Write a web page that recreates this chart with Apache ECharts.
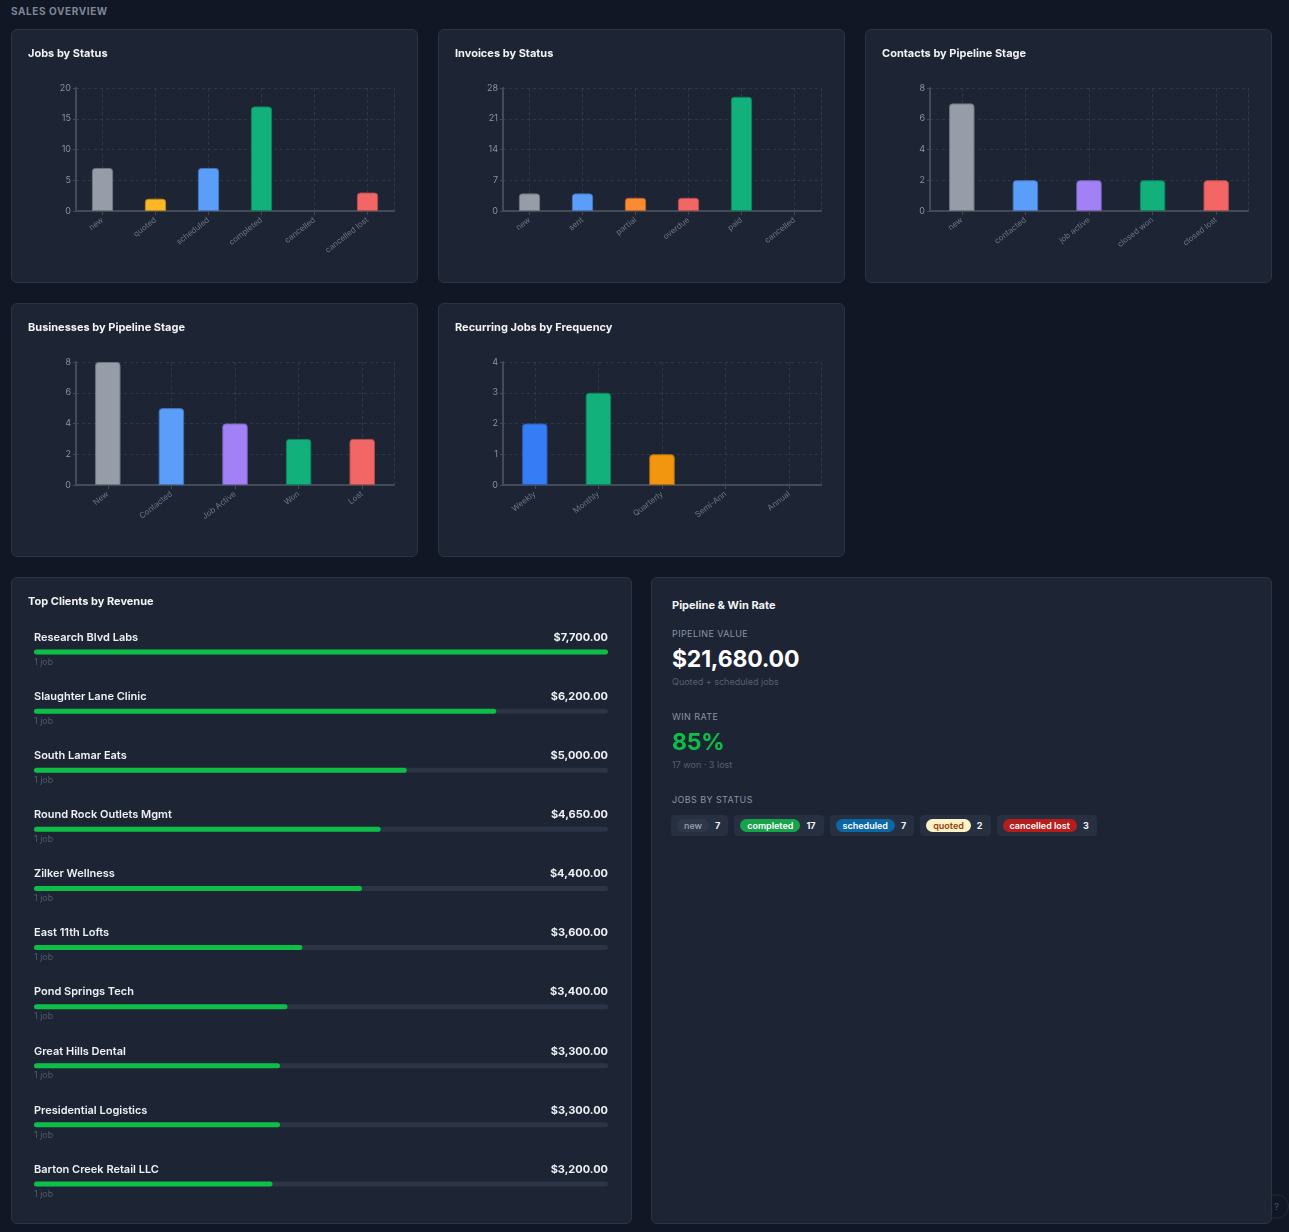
<!DOCTYPE html>
<html>
<head>
<meta charset="utf-8">
<script src="https://cdn.jsdelivr.net/npm/echarts@6/dist/echarts.min.js"></script>
<style>
	body { margin: 0; background: #111725; width: 1289px; height: 1232px; overflow: hidden; position: relative; font-family: Inter, "Noto Sans", sans-serif; }
	.hdr { position: absolute; left: 11px; top: 4px; font-size: 10px; font-weight: 700; letter-spacing: .6px; color: #7d8798; line-height: 14px; }
	.panel { position: absolute; background: #1d2433; border: 1px solid #2b3443; border-radius: 6px; box-sizing: border-box; }
	.chart { position: absolute; left: 0; top: 0; right: 0; bottom: 0; }
	.t { position: absolute; left: 20px; white-space: nowrap; }
	.ttl { font-size: 11px; font-weight: 700; color: #f3f4f6; line-height: 14px; }
	.lbl { font-size: 9px; color: #8a94a4; letter-spacing: .4px; line-height: 12px; }
	.big { font-size: 23px; font-weight: 700; line-height: 28px; color: #fff; letter-spacing: -.2px; }
	.sub { font-size: 9px; color: #566072; line-height: 12px; }
	.badges { position: absolute; left: 19px; top: 237px; display: flex; }
	.grp { display: flex; align-items: center; height: 21px; background: #273041; border-radius: 4px; padding: 0 8px 0 6px; margin-right: 6px; }
	.pill { height: 13px; line-height: 13px; padding: 0 7px; border-radius: 7px; font-size: 9px; font-weight: 600; }
	.cnt { font-size: 9px; font-weight: 700; color: #f3f4f6; margin-left: 6px; }
	.help { position: absolute; left: 1264px; top: 1194px; width: 25px; height: 25px; border-radius: 50%; border: 1px solid #232b39; box-sizing: border-box; color: #4b5565; font-size: 9px; text-align: center; line-height: 23px; }
</style>
</head>
<body>
<div class="hdr">SALES OVERVIEW</div>

<div class="panel" style="left:11px;top:29px;width:407px;height:254px"><div class="chart" id="c1"></div></div>
<div class="panel" style="left:438px;top:29px;width:407px;height:254px"><div class="chart" id="c2"></div></div>
<div class="panel" style="left:865px;top:29px;width:407px;height:254px"><div class="chart" id="c3"></div></div>
<div class="panel" style="left:11px;top:303px;width:407px;height:254px"><div class="chart" id="c4"></div></div>
<div class="panel" style="left:438px;top:303px;width:407px;height:254px"><div class="chart" id="c5"></div></div>
<div class="panel" style="left:11px;top:577px;width:621px;height:647px"><div class="chart" id="c6"></div></div>

<div class="panel" style="left:651px;top:577px;width:621px;height:647px">
	<div class="t ttl" style="top:20px">Pipeline &amp; Win Rate</div>
	<div class="t lbl" style="top:50px">PIPELINE VALUE</div>
	<div class="t big" id="pipeVal" style="top:67px"></div>
	<div class="t sub" style="top:98px">Quoted + scheduled jobs</div>
	<div class="t lbl" style="top:133px">WIN RATE</div>
	<div class="t big" id="winRate" style="top:150px;color:#0dbf47"></div>
	<div class="t sub" id="winSub" style="top:181px"></div>
	<div class="t lbl" style="top:216px">JOBS BY STATUS</div>
	<div class="badges" id="badges"></div>
</div>
<div class="help">?</div>

<script>
	// chart data
	var jobStatusCats = ['new', 'quoted', 'scheduled', 'completed', 'cancelled', 'cancelled lost'];
	var jobStatusCounts = [7, 2, 7, 17, 0, 3];
	var jobTicks = [0, 5, 10, 15, 20];

	var invoiceStatusCats = ['new', 'sent', 'partial', 'overdue', 'paid', 'cancelled'];
	var invoiceStatusCounts = [4, 4, 3, 3, 26, 0];
	var invoiceTicks = [0, 7, 14, 21, 28];

	var contactStageCats = ['new', 'contacted', 'job active', 'closed won', 'closed lost'];
	var contactStageCounts = [7, 2, 2, 2, 2];
	var contactTicks = [0, 2, 4, 6, 8];

	var businessStageCats = ['New', 'Contacted', 'Job Active', 'Won', 'Lost'];
	var businessStageCounts = [8, 5, 4, 3, 3];
	var businessTicks = [0, 2, 4, 6, 8];

	var frequencyCats = ['Weekly', 'Monthly', 'Quarterly', 'Semi-Ann', 'Annual'];
	var frequencyCounts = [2, 3, 1, 0, 0];
	var frequencyTicks = [0, 1, 2, 3, 4];

	var clientNames = ['Research Blvd Labs', 'Slaughter Lane Clinic', 'South Lamar Eats', 'Round Rock Outlets Mgmt', 'Zilker Wellness',
		'East 11th Lofts', 'Pond Springs Tech', 'Great Hills Dental', 'Presidential Logistics', 'Barton Creek Retail LLC'];
	var clientRevenue = [7700, 6200, 5000, 4650, 4400, 3600, 3400, 3300, 3300, 3200];
	var clientJobs = [1, 1, 1, 1, 1, 1, 1, 1, 1, 1];

	var pipelineValue = 21680;
	var badgeStatuses = ['new', 'completed', 'scheduled', 'quoted', 'cancelled lost'];

	// colours
	var GRAY = '#969ca8', BLUE = '#5a9ef9', PURPLE = '#a281f7', GREEN = '#12b07a', RED = '#f26666';
	var statusColors = {
		'new': GRAY, 'quoted': '#f9b824', 'scheduled': BLUE, 'completed': GREEN, 'cancelled': '#6b7280', 'cancelled lost': RED,
		'sent': BLUE, 'partial': '#fb8a34', 'overdue': RED, 'paid': GREEN
	};
	var stageColors = [GRAY, BLUE, PURPLE, GREEN, RED];
	var freqColors = ['#367cf4', GREEN, '#f2950f', '#8b5cf6', '#ec4899'];

	var FONT = 'Inter, "Noto Sans", sans-serif';

	function shade(hex) {
		var n = parseInt(hex.slice(1), 16);
		var r = Math.round(((n >> 16) & 255) * 0.75), g = Math.round(((n >> 8) & 255) * 0.75), b = Math.round((n & 255) * 0.75);
		return 'rgb(' + r + ',' + g + ',' + b + ')';
	}

	function barChart(id, title, cats, vals, colors, ticks) {
		var chart = echarts.init(document.getElementById(id));
		var interval = ticks[1] - ticks[0];
		chart.setOption({
			animation: false,
			title: {
				text: title, left: 16, top: 18, padding: 0,
				textStyle: { fontFamily: FONT, fontSize: 11, fontWeight: 700, color: '#f3f4f6' }
			},
			grid: { left: 64, right: 23, top: 58, bottom: 71, containLabel: false },
			xAxis: {
				type: 'category',
				data: cats,
				axisLine: { lineStyle: { color: '#434b59', width: 2 } },
				axisTick: { show: true, alignWithLabel: true, length: 4, lineStyle: { color: '#434b59' } },
				axisLabel: { rotate: 38, interval: 0, fontFamily: FONT, fontSize: 8, color: '#6e7685', margin: 8 },
				splitLine: { show: true, alignWithLabel: true, lineStyle: { color: '#2f3847', type: [3, 3] } }
			},
			yAxis: [{
				type: 'value',
				min: ticks[0],
				max: ticks[ticks.length - 1],
				interval: interval,
				axisLine: { show: true, lineStyle: { color: '#434b59', width: 2 } },
				axisTick: { show: true, length: 3, lineStyle: { color: '#434b59' } },
				axisLabel: { fontFamily: FONT, fontSize: 9, color: '#8a93a1', margin: 5 },
				splitLine: { show: true, lineStyle: { color: '#2f3847', type: [3, 3] } }
			}, {
				type: 'value',
				position: 'right',
				min: 0,
				max: 1,
				axisLine: { show: true, lineStyle: { color: '#2f3847', type: [3, 3] } },
				axisTick: { show: false },
				axisLabel: { show: false },
				splitLine: { show: false }
			}],
			series: [{
				type: 'bar',
				barWidth: '40%',
				data: vals.map(function (v, i) {
					var c = colors[i];
					return {
						value: v,
						itemStyle: { color: c, borderColor: shade(c), borderWidth: v > 0 ? 1 : 0, borderRadius: [3, 3, 0, 0], opacity: v > 0 ? 1 : 0 }
					};
				})
			}]
		});
		return chart;
	}

	barChart('c1', 'Jobs by Status', jobStatusCats, jobStatusCounts,
		jobStatusCats.map(function (c) { return statusColors[c]; }), jobTicks);
	barChart('c2', 'Invoices by Status', invoiceStatusCats, invoiceStatusCounts,
		invoiceStatusCats.map(function (c) { return statusColors[c]; }), invoiceTicks);
	barChart('c3', 'Contacts by Pipeline Stage', contactStageCats, contactStageCounts, stageColors, contactTicks);
	barChart('c4', 'Businesses by Pipeline Stage', businessStageCats, businessStageCounts, stageColors, businessTicks);
	barChart('c5', 'Recurring Jobs by Frequency', frequencyCats, frequencyCounts, freqColors, frequencyTicks);

	function money(v) {
		return '$' + v.toLocaleString('en-US', { minimumFractionDigits: 2, maximumFractionDigits: 2 });
	}

	// top clients: grey track + green fill
	var maxRev = Math.max.apply(null, clientRevenue);
	var trackW = 621 - 2 - 22 - 23;
	var clients = echarts.init(document.getElementById('c6'));
	clients.setOption({
		animation: false,
		title: {
			text: 'Top Clients by Revenue', left: 16, top: 18, padding: 0,
			textStyle: { fontFamily: FONT, fontSize: 11, fontWeight: 700, color: '#f3f4f6' }
		},
		grid: { left: 22, right: 23, top: 44.5, bottom: 9.5 },
		xAxis: { type: 'value', min: 0, max: maxRev, show: false },
		yAxis: { type: 'category', data: clientNames, inverse: true, show: false },
		series: [{
			type: 'bar',
			barWidth: 5,
			silent: true,
			itemStyle: { color: '#2b3546', borderRadius: 3 },
			data: clientNames.map(function () { return maxRev; }),
			label: {
				show: true,
				position: [0, -12],
				verticalAlign: 'middle',
				formatter: function (p) {
					return '{n|' + clientNames[p.dataIndex] + '}{v|' + money(clientRevenue[p.dataIndex]) + '}';
				},
				rich: {
					n: { width: trackW - 120, fontFamily: FONT, fontSize: 11, fontWeight: 600, color: '#eef1f5' },
					v: { width: 120, align: 'right', fontFamily: FONT, fontSize: 11, fontWeight: 700, color: '#eef1f5' }
				}
			}
		}, {
			type: 'bar',
			barWidth: 5,
			barGap: '-100%',
			itemStyle: { color: '#0dbf47', borderRadius: 3 },
			data: clientRevenue,
			label: {
				show: true,
				position: [0, 12.5],
				verticalAlign: 'middle',
				fontFamily: FONT, fontSize: 9, color: '#505a69',
				formatter: function (p) {
					var n = clientJobs[p.dataIndex];
					return n + (n === 1 ? ' job' : ' jobs');
				}
			}
		}]
	});

	// pipeline & win rate panel
	var won = jobStatusCounts[jobStatusCats.indexOf('completed')];
	var lost = jobStatusCounts[jobStatusCats.indexOf('cancelled lost')];
	document.getElementById('pipeVal').textContent = money(pipelineValue);
	document.getElementById('winRate').textContent = Math.round(won / (won + lost) * 100) + '%';
	document.getElementById('winSub').textContent = won + ' won \u00b7 ' + lost + ' lost';

	var pillStyle = {
		'new': 'background:#2e3849;color:#9aa3b1;font-weight:500',
		'completed': 'background:#16a34a;color:#fff',
		'scheduled': 'background:#0b67a6;color:#fff',
		'quoted': 'background:#fef3c7;color:#92400e',
		'cancelled lost': 'background:#b91c1c;color:#fff'
	};
	var html = '';
	badgeStatuses.forEach(function (s) {
		html += '<div class="grp"><span class="pill" style="' + pillStyle[s] + '">' + s + '</span><span class="cnt">' +
			jobStatusCounts[jobStatusCats.indexOf(s)] + '</span></div>';
	});
	document.getElementById('badges').innerHTML = html;
</script>
</body>
</html>
